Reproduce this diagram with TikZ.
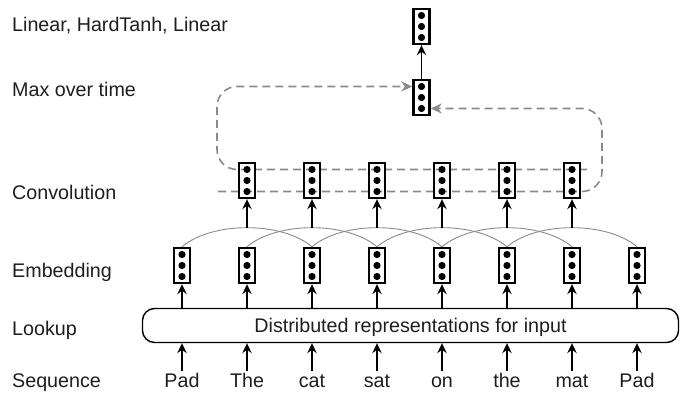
\documentclass[tikz,border=0pt]{standalone}
\usepackage{fontspec}
\setmainfont{Liberation Sans}
\usetikzlibrary{arrows.meta,calc}
\definecolor{ink}{HTML}{1E1E1E}
\definecolor{dgray}{HTML}{8A8A8A}
\tikzset{
  lbl/.style={anchor=base west,inner sep=0pt,text=ink,font=\fontsize{19.7}{22}\selectfont},
  word/.style={anchor=base,inner sep=2pt,text height=14pt,text depth=0pt,text=ink,font=\fontsize{19.7}{22}\selectfont},
  cell/.style={draw=black,line width=2.4pt,minimum width=16pt,minimum height=35pt,inner sep=0pt},
  up/.style={draw=black,line width=1.2pt,-{Stealth[length=10pt,width=9.5pt,inset=3.5pt]}},
  dsh/.style={draw=dgray,line width=1.6pt,dash pattern=on 8pt off 5pt,rounded corners=20pt},
  dtip/.style={-{Stealth[length=11pt,width=10pt,inset=3.5pt]}},
  arc/.style={draw=dgray,line width=0.9pt},
}
\newcommand{\celldots}[1]{%
  \foreach \dd in {-11,0,11} \fill (#1.center) ++(0,\dd) circle (3.6pt);}
\begin{document}
\begin{tikzpicture}[x=1pt,y=-1pt]
\useasboundingbox (0,0) rectangle (681,396);

% row labels
\node[lbl] (l1) at (12,32) {Linear, HardTanh, Linear};
\node[lbl] (l2) at (12,97) {Max over time};
\node[lbl] (l3) at (12,199) {Convolution};
\node[lbl] (l4) at (12,277) {Embedding};
\node[lbl] (l5) at (12,335) {Lookup};
\node[lbl] (l6) at (12,387) {Sequence};

% lookup table
\node[draw=black,line width=1.4pt,rounded corners=12pt,minimum width=536pt,minimum height=34pt,
      inner sep=0pt,text height=14pt,text depth=0pt,text=ink,font=\fontsize{19.7}{22}\selectfont]
      (lk) at (410.5,325.5) {Distributed representations for input};

% input words, embeddings, lookup arrows
\foreach \i/\w in {1/Pad,2/The,3/cat,4/sat,5/on,6/the,7/mat,8/Pad} {
  \pgfmathsetmacro{\cx}{182+65*(\i-1)}
  \node[word] (w\i) at (\cx,387) {\w};
  \node[cell] (e\i) at (\cx,265.5) {};
  \draw[up] (w\i.north) -- (w\i.north |- lk.south);
  \draw[up] (e\i.south |- lk.north) -- (e\i.south);
}

% ends of the two dashed pooling lines
\coordinate (d1r) at (587,169.5);
\coordinate (d2l) at (218,191.5);

% max-over-time and output cells
\node[cell] (m) at (421.5,97.5) {};
\node[cell] (t) at (421.5,26.5) {};

\draw[dsh,dtip] (d1r) -- (217,169.5) -- (217,86.5) -- ([yshift=11pt]m.west);
\draw[dsh,dtip] (d2l) -- (602,191.5) -- (602,108.5) -- ([yshift=-11pt]m.east);

% window arcs feeding the convolution
\foreach \i in {1,...,6} {
  \pgfmathtruncatemacro{\j}{\i+2}
  \draw[arc] (e\i.north) .. controls +(30,-25.5) and +(-30,-25.5) .. (e\j.north);
}

% convolution cells
\foreach \i in {2,...,7} {
  \node[cell] (c\i) at ($(e\i)+(0,-85)$) {};
  \coordinate (p\i) at ($(e\i.north)+(0,-19)$);
  \draw[up] (p\i) -- (c\i.south);
  \celldots{c\i}
}

\foreach \i in {1,...,8} { \celldots{e\i} }
\celldots{m}
\celldots{t}
\draw[up] (m.north) -- (t.south);
\end{tikzpicture}
\end{document}
